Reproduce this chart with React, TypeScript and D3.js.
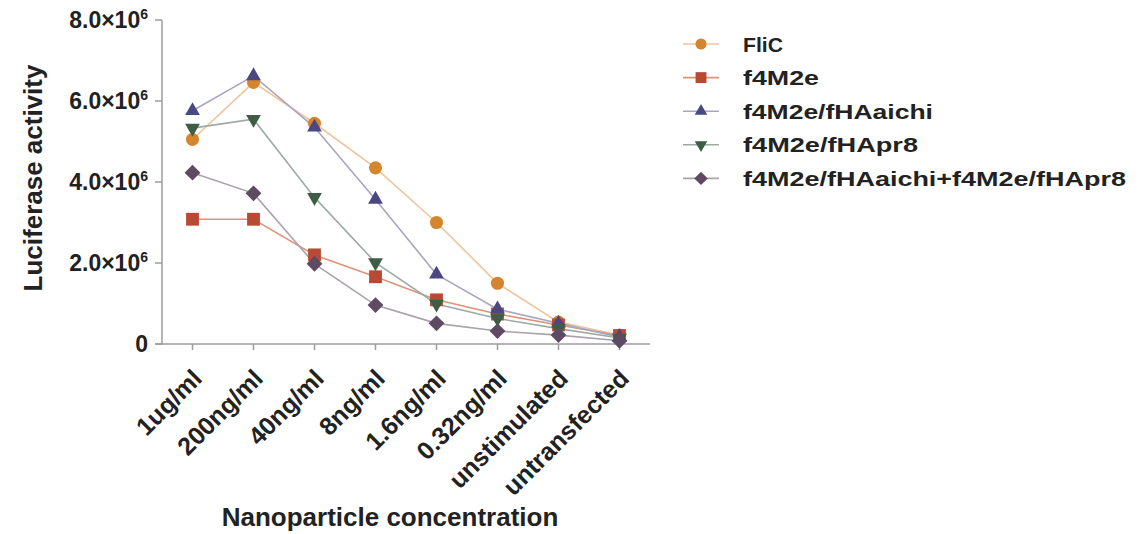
import React from "react";
import * as d3 from "d3";

// categories and series values (luciferase activity)
const categories = ["1ug/ml", "200ng/ml", "40ng/ml", "8ng/ml", "1.6ng/ml", "0.32ng/ml", "unstimulated", "untransfected"];
const seriesNames = ["FliC", "f4M2e", "f4M2e/fHAaichi", "f4M2e/fHApr8", "f4M2e/fHAaichi+f4M2e/fHApr8"];
const flic = [5.05e6, 6.46e6, 5.45e6, 4.35e6, 3.0e6, 1.5e6, 0.54e6, 0.22e6];
const f4m2e = [3.08e6, 3.08e6, 2.2e6, 1.66e6, 1.09e6, 0.74e6, 0.47e6, 0.21e6];
const aichi = [5.76e6, 6.62e6, 5.35e6, 3.57e6, 1.72e6, 0.86e6, 0.51e6, 0.17e6];
const pr8 = [5.33e6, 5.55e6, 3.62e6, 2.01e6, 0.99e6, 0.63e6, 0.38e6, 0.15e6];
const combo = [4.23e6, 3.72e6, 1.98e6, 0.96e6, 0.51e6, 0.32e6, 0.22e6, 0.08e6];
const yTicks = [0, 2e6, 4e6, 6e6, 8e6];
const yTickMantissa = ["0", "2.0×10", "4.0×10", "6.0×10", "8.0×10"];

const W = 1141;
const H = 534;
const FONT = "'Liberation Sans', Arial, Helvetica, sans-serif";
const AXIS = "#9c9c9c";

const styles = [
  { fill: "#d4852e", line: "#efc59c", shape: "circle" },
  { fill: "#b84a35", line: "#dc9479", shape: "square" },
  { fill: "#4a4782", line: "#a8a6c2", shape: "up" },
  { fill: "#3d5e45", line: "#a0aaa4", shape: "down" },
  { fill: "#5e4a62", line: "#a9a2ab", shape: "diamond" },
];
const legendWidths = [40, 76, 190, 175, 383];

function symbolPath(shape: string, big: boolean) {
  const k = big ? 1 : 0.72;
  if (shape === "circle") return d3.symbol(d3.symbolCircle, 135 * k)()!;
  if (shape === "square") return d3.symbol(d3.symbolSquare, 165 * k)()!;
  if (shape === "diamond") return d3.symbol(d3.symbolSquare, 125 * k)()!;
  return d3.symbol(d3.symbolTriangle, 95 * k)()!;
}
function symbolRotate(shape: string) {
  if (shape === "down") return 180;
  if (shape === "diamond") return 45;
  return 0;
}

export default function App() {
  const data = [flic, f4m2e, aichi, pr8, combo];
  const x = d3.scalePoint<string>().domain(categories).range([162, 650]).padding(0.5);
  const y = d3.scaleLinear().domain([0, 8e6]).range([344, 20]);
  const line = d3
    .line<number>()
    .x((_, i) => x(categories[i])!)
    .y((d) => y(d));

  return (
    <svg width={W} height={H} style={{ position: "absolute", left: 0, top: 0, background: "#fff" }} fontFamily={FONT}>
      {/* axes */}
      <line x1={162} x2={162} y1={y(8e6)} y2={y(0)} stroke={AXIS} strokeWidth={1.5} />
      <line x1={155} x2={650} y1={y(0)} y2={y(0)} stroke={AXIS} strokeWidth={1.5} />
      {yTicks.map((t, i) => (
        <g key={t}>
          <line x1={155} x2={162} y1={y(t)} y2={y(t)} stroke={AXIS} strokeWidth={1.5} />
          <text x={148} y={y(t) + 8} textAnchor="end" fontSize={23} fontWeight="bold" fill="#222">
            {yTickMantissa[i]}
            {t !== 0 && (
              <tspan fontSize={14} dy={-9}>
                6
              </tspan>
            )}
          </text>
        </g>
      ))}
      {categories.map((c) => (
        <g key={c}>
          <line x1={x(c)} x2={x(c)} y1={y(0)} y2={y(0) + 6} stroke={AXIS} strokeWidth={1.5} />
          <text
            transform={`translate(${x(c)! + 11},${380}) rotate(-45)`}
            textAnchor="end"
            fontSize={25}
            fontWeight="bold"
            fill="#222"
          >
            {c}
          </text>
        </g>
      ))}
      <text transform="translate(42,178) rotate(-90)" textAnchor="middle" fontSize={26} fontWeight="bold" fill="#222">
        Luciferase activity
      </text>
      <text x={390} y={526} textAnchor="middle" fontSize={26} fontWeight="bold" fill="#222">
        Nanoparticle concentration
      </text>

      {/* series lines */}
      {data.map((vals, s) => (
        <path key={"l" + s} d={line(vals)!} fill="none" stroke={styles[s].line} strokeWidth={1.6} />
      ))}
      {/* markers */}
      {data.map((vals, s) => (
        <g key={"m" + s}>
          {vals.map((v, i) => (
            <path
              key={i}
              d={symbolPath(styles[s].shape, true)}
              transform={`translate(${x(categories[i])},${y(v)}) rotate(${symbolRotate(styles[s].shape)})`}
              fill={styles[s].fill}
            />
          ))}
        </g>
      ))}

      {/* legend */}
      {seriesNames.map((name, s) => {
        const cy = 44 + s * 33.6;
        return (
          <g key={name}>
            <line x1={683} x2={719} y1={cy} y2={cy} stroke={styles[s].line} strokeWidth={1.6} />
            <path
              d={symbolPath(styles[s].shape, false)}
              transform={`translate(701,${cy}) rotate(${symbolRotate(styles[s].shape)})`}
              fill={styles[s].fill}
            />
            <text
              x={743}
              y={cy + 7.5}
              fontSize={21}
              fontWeight="bold"
              fill="#222"
              textLength={legendWidths[s]}
              lengthAdjust="spacingAndGlyphs"
            >
              {name}
            </text>
          </g>
        );
      })}
    </svg>
  );
}
